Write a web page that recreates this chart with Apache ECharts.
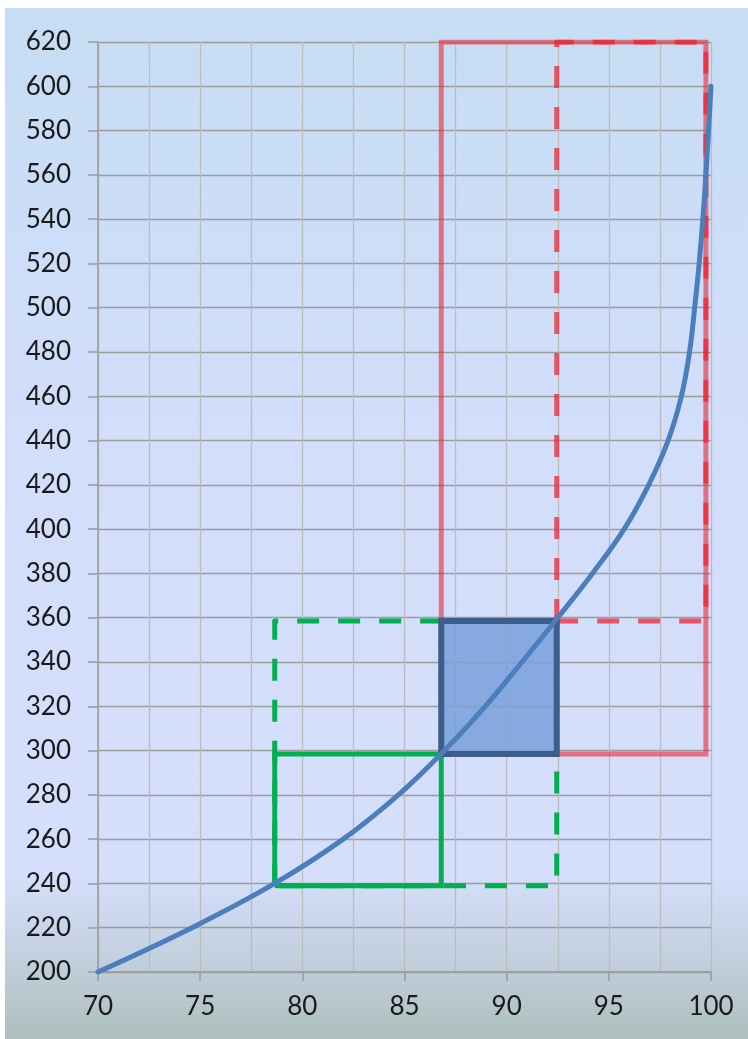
<!DOCTYPE html>
<html>
<head>
<meta charset="utf-8">
<script src="https://cdn.jsdelivr.net/npm/echarts@6/dist/echarts.min.js"></script>
<style>
  html, body { margin: 0; padding: 0; background: #ffffff; }
  #chart {
    position: absolute; left: 5px; top: 8px; width: 743px; height: 1031px;
    background: linear-gradient(to bottom, #c6ddf4 0%, #d3defb 45%, #d5dffc 84%, #c3d0de 92%, #adbfbd 100%);
  }
</style>
</head>
<body>
<div id="chart"></div>
<script>
// ---- data ----
const curveY = [200, 220, 240, 260, 280, 300, 320, 340, 360, 380, 400, 420, 440, 460, 480, 500, 520, 540, 560, 580, 600];
const curveX = [70, 74.6, 78.65, 82.0, 84.7, 86.95, 88.95, 90.75, 92.5, 94.2, 95.75, 96.95, 97.9, 98.55, 98.95, 99.2, 99.42, 99.6, 99.75, 99.88, 100];

const redSolidX = [86.8, 99.75];
const redSolidY = [298.5, 620];
const redDashX = [92.45, 99.75];
const redDashY = [358.5, 620];
const greenSolidX = [78.65, 86.8];
const greenSolidY = [239, 298.5];
const greenDashX = [78.65, 92.45];
const greenDashY = [239, 358.5];
const boxX = [86.8, 92.45];
const boxY = [298.5, 358.5];

const xTicks = [70, 75, 80, 85, 90, 95, 100];
const yTicks = [200, 220, 240, 260, 280, 300, 320, 340, 360, 380, 400, 420, 440, 460, 480, 500, 520, 540, 560, 580, 600, 620];

// ---- helpers ----
function rectPath(xs, ys) {
  return [[xs[0], ys[0]], [xs[0], ys[1]], [xs[1], ys[1]], [xs[1], ys[0]], [xs[0], ys[0]]];
}
const curveData = curveY.map((y, i) => [curveX[i], y]);

const chart = echarts.init(document.getElementById('chart'));
const labelFont = { fontFamily: 'Lato', fontSize: 26, color: '#1a1a1a' };

function rectSeries(xs, ys, color, dashed, z) {
  return {
    type: 'line',
    data: rectPath(xs, ys),
    showSymbol: false,
    symbol: 'none',
    z: z,
    silent: true,
    lineStyle: {
      color: color, width: 5,
      type: dashed ? [22, 19] : 'solid',
      join: dashed ? 'round' : 'miter',
      cap: 'butt'
    },
    animation: false
  };
}

chart.setOption({
  animation: false,
  grid: { left: 93, top: 34, right: 37, bottom: 67, containLabel: false },
  xAxis: {
    type: 'value', min: xTicks[0], max: xTicks[xTicks.length - 1], interval: 5,
    axisLine: { show: true, lineStyle: { color: '#9a9a9a', width: 1.5 } },
    axisTick: { show: true, inside: false, length: 9, lineStyle: { color: '#9a9a9a', width: 1.5 } },
    axisLabel: Object.assign({ margin: 22 }, labelFont),
    splitLine: { show: true, lineStyle: { color: '#bcbcbc', width: 1.3 } },
    minorTick: { show: false, splitNumber: 2 },
    minorSplitLine: { show: true, lineStyle: { color: '#bcbcbc', width: 1.3 } }
  },
  yAxis: {
    type: 'value', min: yTicks[0], max: yTicks[yTicks.length - 1], interval: 20,
    axisLine: { show: true, lineStyle: { color: '#9a9a9a', width: 1.5 } },
    axisTick: { show: true, inside: false, length: 10, lineStyle: { color: '#9a9a9a', width: 1.5 } },
    axisLabel: Object.assign({ margin: 27 }, labelFont),
    splitLine: { show: true, lineStyle: { color: '#9c9c9c', width: 1.3 } }
  },
  series: [
    rectSeries(redSolidX, redSolidY, 'rgba(235,45,60,0.62)', false, 2),
    rectSeries(redDashX, redDashY, 'rgba(240,30,45,0.72)', true, 3),
    rectSeries(greenSolidX, greenSolidY, '#00b050', false, 4),
    rectSeries(greenDashX, greenDashY, '#00b050', true, 4),
    {
      type: 'custom',
      z: 5,
      silent: true,
      data: [[boxX[0], boxY[0], boxX[1], boxY[1]]],
      renderItem: function (params, api) {
        const p0 = api.coord([api.value(0), api.value(1)]);
        const p1 = api.coord([api.value(2), api.value(3)]);
        return {
          type: 'rect',
          shape: { x: Math.min(p0[0], p1[0]), y: Math.min(p0[1], p1[1]), width: Math.abs(p1[0] - p0[0]), height: Math.abs(p1[1] - p0[1]) },
          style: { fill: 'rgba(120,160,218,0.85)', stroke: '#3b5e8c', lineWidth: 6 }
        };
      },
      animation: false
    },
    {
      type: 'line',
      data: curveData,
      smooth: 0.4,
      showSymbol: false,
      symbol: 'none',
      z: 6,
      silent: true,
      lineStyle: { color: '#4a7ebd', width: 5, cap: 'round' },
      animation: false
    }
  ]
});
</script>
</body>
</html>
